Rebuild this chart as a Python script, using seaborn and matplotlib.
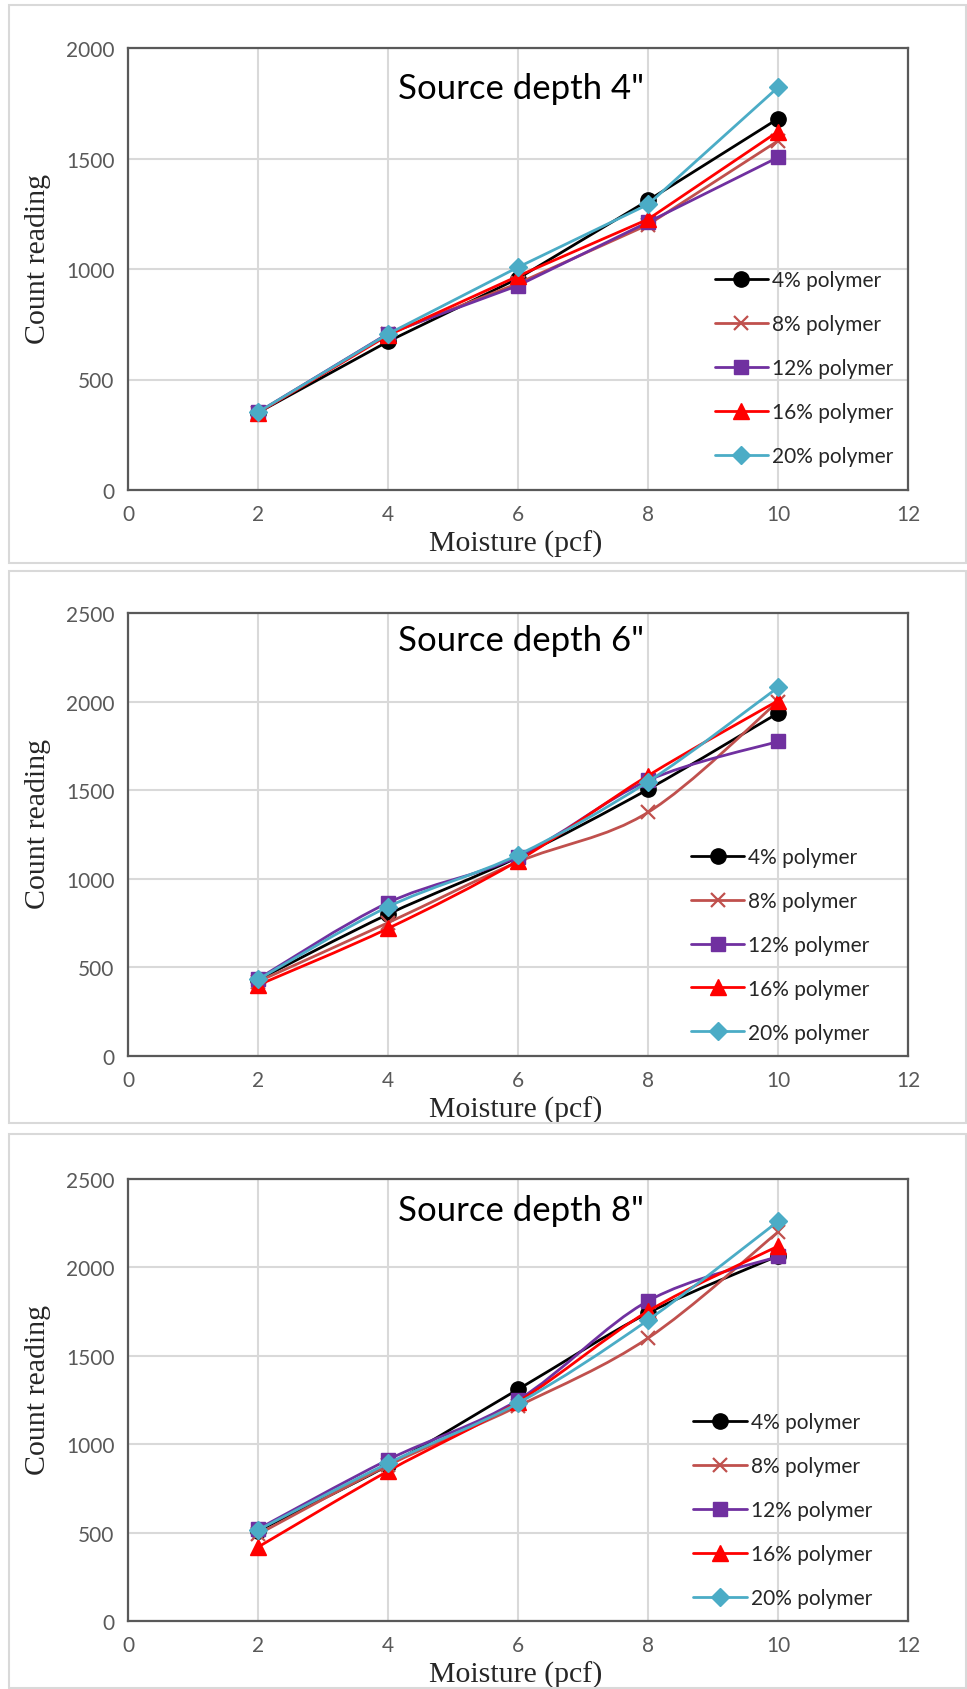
import pandas as pd
import numpy as np
import seaborn as sns
import matplotlib.pyplot as plt
from matplotlib.lines import Line2D
from matplotlib.patches import Rectangle, PathPatch
from matplotlib.path import Path
from matplotlib.ticker import MultipleLocator

moisture = [2, 4, 6, 8, 10]
series = ['4% polymer', '8% polymer', '12% polymer', '16% polymer', '20% polymer']

# count readings, one list per polymer content, for each source depth
depth4 = {
    '4% polymer': [350, 672, 957, 1310, 1680],
    '8% polymer': [350, 705, 935, 1200, 1580],
    '12% polymer': [352, 708, 925, 1212, 1505],
    '16% polymer': [350, 700, 968, 1225, 1622],
    '20% polymer': [352, 706, 1008, 1292, 1822],
}
depth6 = {
    '4% polymer': [430, 800, 1122, 1505, 1935],
    '8% polymer': [420, 752, 1095, 1375, 2000],
    '12% polymer': [435, 865, 1125, 1555, 1775],
    '16% polymer': [400, 720, 1102, 1582, 2005],
    '20% polymer': [432, 842, 1135, 1548, 2080],
}
depth8 = {
    '4% polymer': [510, 880, 1310, 1742, 2065],
    '8% polymer': [490, 880, 1215, 1600, 2200],
    '12% polymer': [520, 912, 1250, 1810, 2062],
    '16% polymer': [418, 848, 1240, 1752, 2120],
    '20% polymer': [515, 892, 1232, 1702, 2260],
}
titles = ['Source depth 4"', 'Source depth 6"', 'Source depth 8"']
ymaxes = [2000, 2500, 2500]
smooth = [False, True, True]

colors = {'4% polymer': '#000000', '8% polymer': '#c0504d', '12% polymer': '#7030a0',
          '16% polymer': '#ff0000', '20% polymer': '#4bacc6'}
markers = {'4% polymer': 'o', '8% polymer': 'x', '12% polymer': 's',
           '16% polymer': '^', '20% polymer': 'D'}
msizes = {'4% polymer': 11, '8% polymer': 10, '12% polymer': 10.5,
          '16% polymer': 11, '20% polymer': 9.5}


def smooth_path(xs, ys):
    # Catmull-Rom style curve through the data points (like Excel's smoothed line)
    pts = np.column_stack([xs, ys]).astype(float)
    verts = [pts[0]]
    codes = [Path.MOVETO]
    n = len(pts)
    for k in range(n - 1):
        p0 = pts[max(k - 1, 0)]
        p1, p2 = pts[k], pts[k + 1]
        p3 = pts[min(k + 2, n - 1)]
        verts += [p1 + (p2 - p0) / 6, p2 - (p3 - p1) / 6, p2]
        codes += [Path.CURVE4] * 3
    return Path(verts, codes)


sns.set_style("white")
plt.rcParams['font.family'] = ['Lato', 'DejaVu Sans']

fig = plt.figure(figsize=(9.67, 16.9), dpi=100)
W, H = 967, 1690

# panel frames (pixels: top, bottom)
frames = [(6, 564), (572, 1124), (1135, 1689)]
for top, bot in frames:
    fig.patches.append(Rectangle((9 / W, 1 - bot / H), (966 - 9) / W, (bot - top) / H,
                                 transform=fig.transFigure, fill=False,
                                 edgecolor='#d9d9d9', lw=1.5))

axes_px = [(49, 491), (614, 1057), (1180, 1622)]
title_y = [0.91, 0.94, 0.93]
legend_pos = [(0.752, 0.497), (0.722, 0.472), (0.725, 0.472)]

for i, (data, (top, bot)) in enumerate(zip([depth4, depth6, depth8], axes_px)):
    ax = fig.add_axes([128 / W, 1 - bot / H, 780 / W, (bot - top) / H])
    rows = []
    for s in series:
        for m, v in zip(moisture, data[s]):
            rows.append({'Moisture': m, 'Count': v, 'Polymer': s})
    df = pd.DataFrame(rows)

    for j, s in enumerate(series):
        sub = df[df['Polymer'] == s]
        kw = dict(markeredgecolor=colors[s],
                  markeredgewidth=1.6 if markers[s] == 'x' else 1)
        z = 2 + j * 0.1
        if smooth[i]:
            ax.add_patch(PathPatch(smooth_path(sub['Moisture'], sub['Count']), fill=False,
                                   edgecolor=colors[s], lw=2, zorder=z))
            sns.lineplot(data=sub, x='Moisture', y='Count', ax=ax, color=colors[s],
                         marker=markers[s], markersize=msizes[s], linestyle='none',
                         legend=False, zorder=z + 0.05, **kw)
        else:
            sns.lineplot(data=sub, x='Moisture', y='Count', ax=ax, color=colors[s],
                         marker=markers[s], markersize=msizes[s], lw=2, legend=False,
                         zorder=z, **kw)

    ax.set_xlim(0, 12)
    ax.set_ylim(0, ymaxes[i])
    ax.xaxis.set_major_locator(MultipleLocator(2))
    ax.xaxis.set_minor_locator(MultipleLocator(1))
    ax.yaxis.set_major_locator(MultipleLocator(500))
    ax.yaxis.set_minor_locator(MultipleLocator(100))
    ax.grid(True, which='major', color='#d9d9d9', lw=1.5)
    ax.set_axisbelow(True)
    for sp in ax.spines.values():
        sp.set_color('#595959')
        sp.set_linewidth(1.6)
        sp.set_visible(True)
    ax.tick_params(which='major', direction='out', length=6, width=1.5, color='#595959',
                   labelsize=15, labelcolor='#595959', pad=3.6)
    ax.tick_params(which='minor', direction='in', length=4, width=1.3, color='#595959')
    ax.tick_params(axis='x', which='major', pad=4)

    ax.set_xlabel('Moisture (pcf)', fontsize=21.5, family=['Liberation Serif'])
    ax.set_ylabel('Count reading', fontsize=21.5, family=['Liberation Serif'])
    ax.xaxis.set_label_coords(0.497, -0.12)
    ax.xaxis.label.set_va('center')
    ax.yaxis.set_label_coords(-0.115, 0.525)
    ax.yaxis.label.set_va('center')

    ax.text(6.05, ymaxes[i] * title_y[i], titles[i], ha='center', va='center',
            fontsize=25, color='black')

    handles = [Line2D([], [], color=colors[s], marker=markers[s], markersize=msizes[s], lw=2,
                      markeredgecolor=colors[s],
                      markeredgewidth=1.6 if markers[s] == 'x' else 1)
               for s in series]
    ax.legend(handles, series, loc='upper left', bbox_to_anchor=legend_pos[i],
              frameon=False, fontsize=15, handlelength=2.55, handletextpad=0.2,
              labelspacing=1.15, borderpad=0, borderaxespad=0)

plt.savefig('out.png', dpi=100)
plt.close()
